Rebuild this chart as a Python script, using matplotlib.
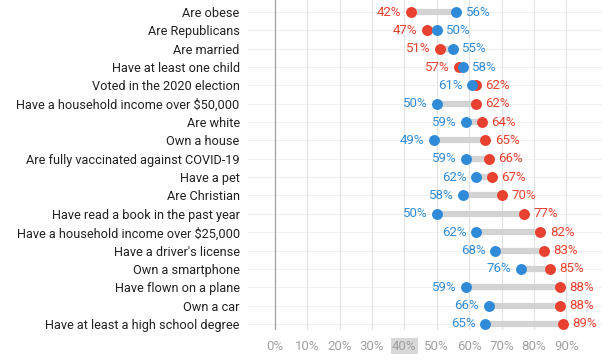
import matplotlib
matplotlib.use("Agg")
import matplotlib.pyplot as plt

plt.rcParams["font.family"] = ["Roboto", "DejaVu Sans"]

CATEGORIES = [
    "Are obese",
    "Are Republicans",
    "Are married",
    "Have at least one child",
    "Voted in the 2020 election",
    "Have a household income over $50,000",
    "Are white",
    "Own a house",
    "Are fully vaccinated against COVID-19",
    "Have a pet",
    "Are Christian",
    "Have read a book in the past year",
    "Have a household income over $25,000",
    "Have a driver's license",
    "Own a smartphone",
    "Have flown on a plane",
    "Own a car",
    "Have at least a high school degree",
]
RED_VALUES = [42, 47, 51, 57, 62, 62, 64, 65, 66, 67, 70, 77, 82, 83, 85, 88, 88, 89]
BLUE_VALUES = [56, 50, 55, 58, 61, 50, 59, 49, 59, 62, 58, 50, 62, 68, 76, 59, 66, 65]
X_TICKS = [0, 10, 20, 30, 40, 50, 60, 70, 80, 90]

RED = "#e8412f"
BLUE = "#2f8bd8"
BAR_GRAY = "#d3d3d3"

fig = plt.figure(figsize=(6.12, 3.64), dpi=100)
ax = fig.add_axes([248 / 612, 34 / 364, 354 / 612, 330 / 364])

n = len(CATEGORIES)
rows = list(range(n))

# faint grid
for y in rows:
    ax.axhline(y, color="#f0f0f0", linewidth=0.8, zorder=0)
for x in X_TICKS[1:]:
    ax.axvline(x, color="#e2e2e2", linewidth=0.8, zorder=0)
ax.axvline(0, color="#a0a0a0", linewidth=0.9, zorder=0)

for i in rows:
    r, b = RED_VALUES[i], BLUE_VALUES[i]
    ax.plot([r, b], [i, i], color=BAR_GRAY, linewidth=4.5, solid_capstyle="butt", zorder=1)
ax.scatter(RED_VALUES, rows, s=62, color=RED, zorder=2, linewidths=0)
ax.scatter(BLUE_VALUES, rows, s=62, color=BLUE, zorder=3, linewidths=0)

off = 2.9
for i in rows:
    r, b = RED_VALUES[i], BLUE_VALUES[i]
    if r < b:
        ax.text(r - off, i, f"{r}%", color=RED, ha="right", va="center", fontsize=9.5)
        ax.text(b + off, i, f"{b}%", color=BLUE, ha="left", va="center", fontsize=9.5)
    else:
        ax.text(b - off, i, f"{b}%", color=BLUE, ha="right", va="center", fontsize=9.5)
        ax.text(r + off, i, f"{r}%", color=RED, ha="left", va="center", fontsize=9.5)

ax.set_xlim(-8.3, 101)
ax.set_ylim(17.33, -0.654)

ax.set_yticks(rows)
ax.set_yticklabels(CATEGORIES, fontsize=9.2, color="#222222")
ax.set_xticks(X_TICKS)
ax.set_xticklabels([f"{t}%" for t in X_TICKS], fontsize=9.5, color="#a0a0a0")
ax.tick_params(length=0)
ax.tick_params(axis="y", pad=6)
ax.tick_params(axis="x", pad=7)
for lbl in ax.get_xticklabels():
    if lbl.get_text() == "40%":
        lbl.set_bbox(dict(facecolor="#d8d8d8", edgecolor="none", pad=1))

for s in ax.spines.values():
    s.set_visible(False)

fig.savefig("out.png", dpi=100)
